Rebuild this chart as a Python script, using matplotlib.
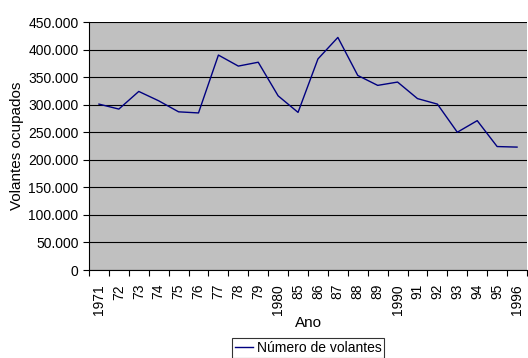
import matplotlib
matplotlib.use("Agg")
import matplotlib.pyplot as plt
from matplotlib.ticker import FuncFormatter, MultipleLocator

categories = ["1971", "72", "73", "74", "75", "76", "77", "78", "79", "1980",
              "85", "86", "87", "88", "89", "1990", "91", "92", "93", "94", "95", "1996"]
values = [301000, 292000, 324000, 307000, 287000, 285000, 390000, 370000, 377000, 316000,
          286000, 383000, 422000, 353000, 335000, 341000, 311000, 301000, 250000, 271000,
          224000, 223000]

plt.rcParams['font.family'] = ['Liberation Sans', 'DejaVu Sans']

fig = plt.figure(figsize=(5.28, 3.58), dpi=100)
ax = fig.add_axes([89/528, 1-270/358, (527-89)/528, (270-22)/358])
ax.set_facecolor('#C0C0C0')

x = list(range(len(categories)))
line, = ax.plot(x, values, color='#000080', linewidth=1.0, label='Número de volantes')

ax.set_xlim(-0.5, len(categories)-0.5)
ax.set_ylim(0, 450000)
ax.yaxis.set_major_locator(MultipleLocator(50000))
ax.yaxis.set_major_formatter(FuncFormatter(lambda v, p: "0" if v == 0 else f"{int(v):,}".replace(",", ".")))
ax.grid(axis='y', color='black', linewidth=0.8)
ax.set_axisbelow(True)

ax.set_xticks([i - 0.5 for i in range(len(categories)+1)], minor=False)
ax.set_xticklabels([])
ax.set_xticks(x, minor=True)
ax.set_xticklabels(categories, minor=True, rotation=90, fontsize=10)
ax.tick_params(axis='x', which='minor', length=0, pad=10)
ax.tick_params(axis='x', which='major', length=4.5, direction='out', color='black')
ax.tick_params(axis='y', length=4.5, direction='out', labelsize=10, pad=3)

for s in ['top', 'right']:
    ax.spines[s].set_visible(False)
ax.spines['left'].set_color('black')
ax.spines['bottom'].set_color('black')

ax.set_ylabel('Volantes ocupados', fontsize=11, labelpad=3)
ax.set_xlabel('Ano', fontsize=11, labelpad=1)

leg = ax.legend(handles=[line], loc='upper center', bbox_to_anchor=(0.5, -0.274), frameon=True,
                fancybox=False, edgecolor='black', fontsize=10, handlelength=1.3,
                handletextpad=0.3, borderpad=0.2, borderaxespad=0)
leg.get_frame().set_linewidth(0.8)

fig.savefig('out.png', dpi=100)
